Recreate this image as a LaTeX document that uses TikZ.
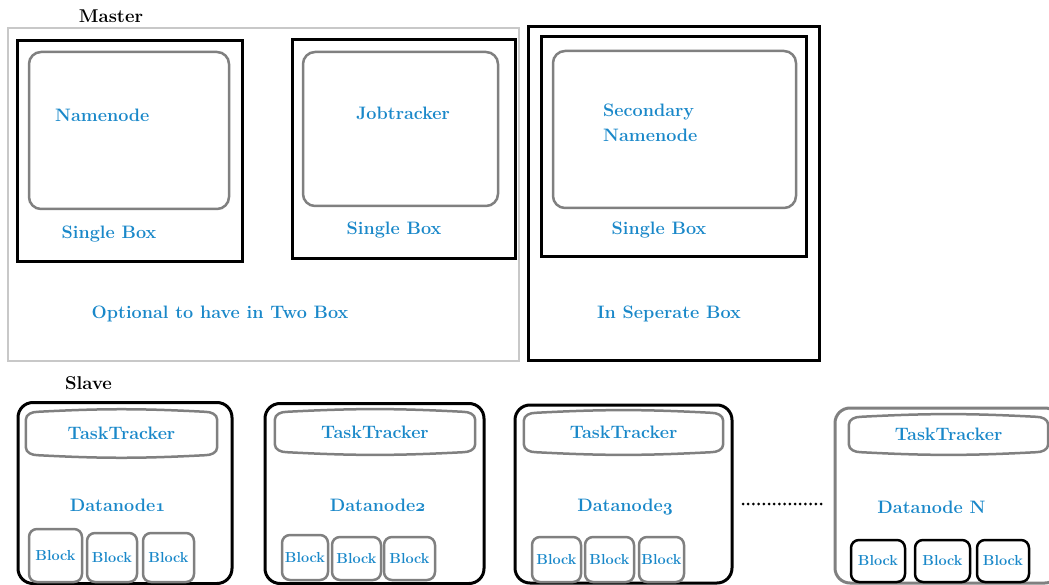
\documentclass[tikz,border=0pt]{standalone}
\usepackage{xcolor}
\usetikzlibrary{positioning}

\definecolor{hadoopblue}{RGB}{26,136,201}
\definecolor{framegrey}{RGB}{200,200,200}
\definecolor{roundgrey}{RGB}{128,128,128}

% bold old style figures for the datanode numbers
\newcommand\osnum[1]{{\usefont{OML}{cmm}{b}{it}#1}}

% outline of a tasktracker: flat box with bowed top and bottom
\newcommand\trackeroutline[1]{%
  \draw[tracker line] ([yshift=-8pt]#1.north west) to[out=90,in=180] ([xshift=12pt]#1.north west)
    to[bend left=3] ([xshift=-12pt]#1.north east) to[out=0,in=90] ([yshift=-8pt]#1.north east)
    -- ([yshift=8pt]#1.south east) to[out=-90,in=0] ([xshift=-12pt]#1.south east)
    to[bend left=3] ([xshift=12pt]#1.south west) to[out=180,in=-90] ([yshift=8pt]#1.south west) -- cycle;}

\begin{document}
\begin{tikzpicture}[x=1pt,y=-1pt,
      master frame/.style={draw=framegrey,line width=2.8pt,inner sep=0pt},
      single box/.style={draw=black,line width=3pt,inner sep=0pt},
      inner box/.style={draw=roundgrey,line width=2.5pt,rounded corners=12pt,inner sep=0pt},
      slave box/.style={draw=black,line width=3pt,rounded corners=15pt,inner sep=0pt},
      block node/.style={draw=roundgrey,line width=2.5pt,rounded corners=8pt,inner sep=0pt,
        text=hadoopblue,font=\fontsize{14.5}{16}\selectfont\bfseries},
      blue text/.style={text=hadoopblue,font=\fontsize{18}{25}\selectfont\bfseries,inner sep=0pt},
      head text/.style={font=\fontsize{18.5}{20}\selectfont\bfseries,inner sep=0pt},
      tracker/.style={blue text,inner sep=0pt},
      tracker line/.style={draw=roundgrey,line width=2.5pt}]

    \useasboundingbox (0,0) rectangle (1049,585);

    % master side
    \node[head text] (master) at (111,16) {Master};
    \node[master frame, minimum width=511pt, minimum height=333pt] (mframe) at (263.5,194.5) {};

    \node[single box, minimum width=225pt, minimum height=221pt] (nnbox) at (129.5,151.5) {};
    \node[inner box, minimum width=200pt, minimum height=157pt] (nninner) at (129,130.5) {};
    \node[blue text, anchor=west] (nn) at (55,115) {Namenode};
    \node[blue text] (nnsingle) at (109,234) {Single Box};

    \node[single box, minimum width=223pt, minimum height=219pt] (jtbox) at (403.5,149.5) {};
    \node[inner box, minimum width=195pt, minimum height=154pt] (jtinner) at (400.5,129) {};
    \node[blue text] (jt) at (403,113) {Jobtracker};
    \node[blue text] (jtsingle) at (394,230) {Single Box};
    \node[blue text] (optional) at (220,314) {Optional to have in Two Box};

    \node[single box, minimum width=291pt, minimum height=333pt] (snframe) at (673.5,193.5) {};
    \node[single box, minimum width=265pt, minimum height=220pt] (snbox) at (673.5,147) {};
    \node[inner box, minimum width=243pt, minimum height=157pt] (sninner) at (674.5,129.5) {};
    \node[blue text, align=left, anchor=west] (sn) at (603,122.5) {Secondary\\Namenode};
    \node[blue text] (snsingle) at (659,230) {Single Box};
    \node[blue text] (separate) at (669,314) {In Seperate Box};

    % slave side
    \node[head text] (slave) at (88.5,383) {Slave};

    \node[slave box, minimum width=214pt, minimum height=181pt] (s1) at (125,493) {};
    \node[slave box, minimum width=219pt, minimum height=180pt] (s2) at (374.5,493.5) {};
    \node[slave box, minimum width=217pt, minimum height=178pt] (s3) at (623.5,494) {};
    \node[slave box, draw=roundgrey, minimum width=225pt, minimum height=175pt] (s4) at (947.5,495.5) {};

    \node[tracker, minimum width=191pt, minimum height=43pt] (t1) at (121.5,433.5) {TaskTracker};
    \node[tracker, minimum width=200pt, minimum height=40pt] (t2) at (375,432) {TaskTracker};
    \node[tracker, minimum width=199pt, minimum height=39pt] (t3) at (623.5,432.5) {TaskTracker};
    \node[tracker, minimum width=199pt, minimum height=35pt] (t4) at (948.5,434.5) {TaskTracker};
    \foreach \t in {t1,t2,t3,t4}
        \trackeroutline{\t};

    \node[blue text] (d1) at (117.5,505) {Datanode\osnum{1}};
    \node[blue text] (d2) at (377.5,505) {Datanode\osnum{2}};
    \node[blue text] (d3) at (625,507) {Datanode\osnum{3}};
    \node[blue text] (d4) at (931.5,507) {Datanode N};

    \node[block node, minimum width=53pt, minimum height=53pt] (b11) at (55.5,555.5) {Block};
    \node[block node, minimum width=50pt, minimum height=49pt] (b12) at (112,557.5) {Block};
    \node[block node, minimum width=51pt, minimum height=49pt] (b13) at (168.5,557.5) {Block};

    \node[block node, minimum width=46pt, minimum height=45pt] (b21) at (305,557.5) {Block};
    \node[block node, minimum width=49pt, minimum height=43pt] (b22) at (356.5,558.5) {Block};
    \node[block node, minimum width=51pt, minimum height=43pt] (b23) at (409.5,558.5) {Block};

    \node[block node, minimum width=49pt, minimum height=45pt] (b31) at (556.5,559.5) {Block};
    \node[block node, minimum width=49pt, minimum height=45pt] (b32) at (609.5,559.5) {Block};
    \node[block node, minimum width=45pt, minimum height=45pt] (b33) at (661.5,559.5) {Block};

    \node[block node, draw=black, minimum width=54pt, minimum height=42pt] (b41) at (878,561) {Block};
    \node[block node, draw=black, minimum width=55pt, minimum height=42pt] (b42) at (942.5,561) {Block};
    \node[block node, draw=black, minimum width=52pt, minimum height=42pt] (b43) at (1003,561) {Block};

    % dots between datanode 3 and datanode N
    \coordinate (dots start) at (743,504);
    \coordinate (dots end) at (822,504);
    \draw[line width=3pt, line cap=round, dash pattern=on 0pt off 5.2pt] (dots start) -- (dots end);
\end{tikzpicture}
\end{document}
